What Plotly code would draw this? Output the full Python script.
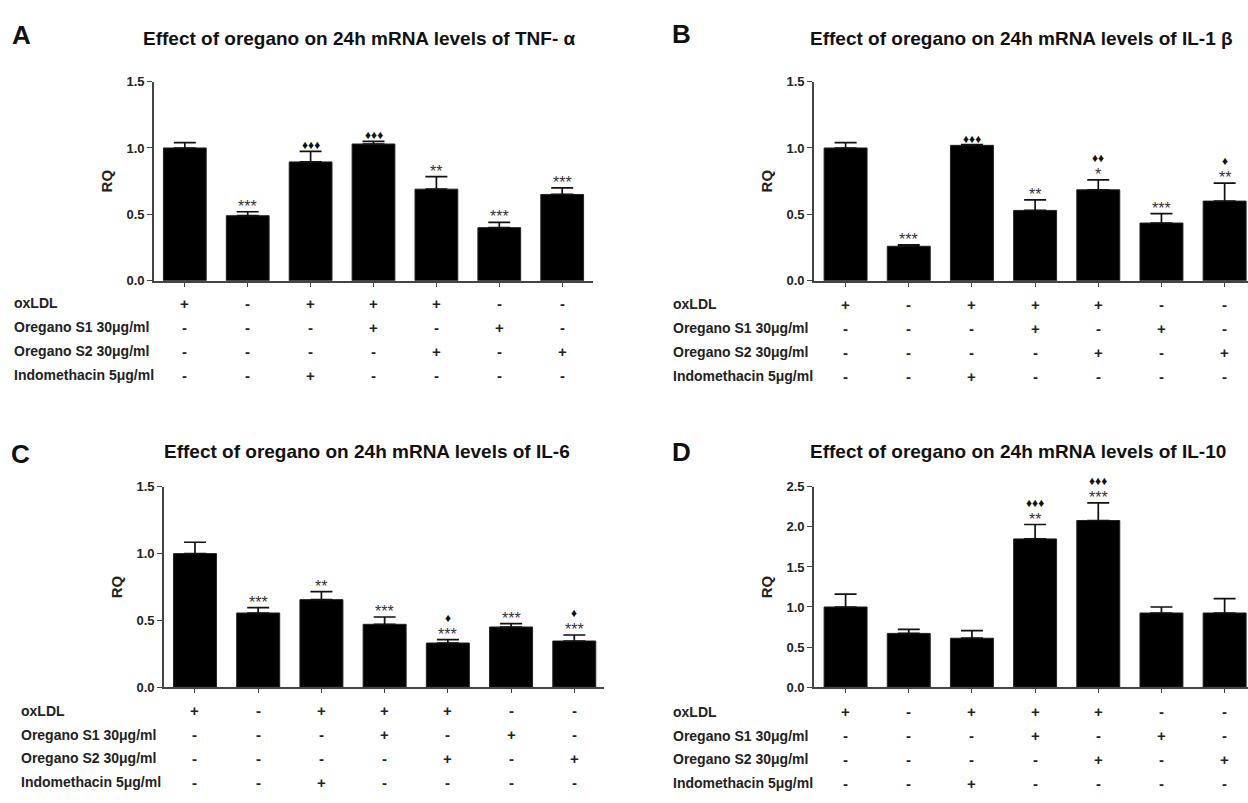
import plotly.graph_objects as go

W, H = 1248, 803

groups = ["oxLDL", "Untreated", "oxLDL+Indo", "oxLDL+S1", "oxLDL+S2", "S1", "S2"]

tnf_mean = [1.00, 0.49, 0.895, 1.03, 0.69, 0.40, 0.65]
tnf_sem = [0.04, 0.03, 0.08, 0.02, 0.095, 0.04, 0.05]
tnf_star = ["", "***", "", "", "**", "***", "***"]
tnf_dia = ["", "", "♦♦♦", "♦♦♦", "", "", ""]

il1b_mean = [1.00, 0.26, 1.02, 0.53, 0.685, 0.435, 0.60]
il1b_sem = [0.04, 0.01, 0.005, 0.08, 0.075, 0.07, 0.135]
il1b_star = ["", "***", "", "**", "*", "***", "**"]
il1b_dia = ["", "", "♦♦♦", "", "♦♦", "", "♦"]

il6_mean = [1.00, 0.555, 0.655, 0.47, 0.33, 0.45, 0.345]
il6_sem = [0.085, 0.04, 0.06, 0.055, 0.025, 0.025, 0.045]
il6_star = ["", "***", "**", "***", "***", "***", "***"]
il6_dia = ["", "", "", "", "♦", "", "♦"]

il10_mean = [1.00, 0.67, 0.61, 1.85, 2.08, 0.925, 0.925]
il10_sem = [0.16, 0.05, 0.095, 0.18, 0.22, 0.075, 0.18]
il10_star = ["", "", "", "**", "***", "", ""]
il10_dia = ["", "", "", "♦♦♦", "♦♦♦", "", ""]

row_labels = ["oxLDL", "Oregano S1 30μg/ml", "Oregano S2 30μg/ml", "Indomethacin 5μg/ml"]
row_signs = [
    ["+", "-", "+", "+", "+", "-", "-"],
    ["-", "-", "-", "+", "-", "+", "-"],
    ["-", "-", "-", "-", "+", "-", "+"],
    ["-", "-", "+", "-", "-", "-", "-"],
]

titles = [
    "Effect of oregano on 24h mRNA levels of TNF- α",
    "Effect of oregano on 24h mRNA levels of IL-1 β",
    "Effect of oregano on 24h mRNA levels of IL-6",
    "Effect of oregano on 24h mRNA levels of IL-10",
]
letters = ["A", "B", "C", "D"]
ymax = [1.5, 1.5, 1.5, 2.5]

FONT = "Liberation Sans, Arial, sans-serif"

# panel geometry in pixels: (x_left, x_right, y_top, y_bottom)
panels = [
    (154, 593, 76, 279),
    (814, 1248, 76, 279),
    (164, 604, 489, 693),
    (814, 1248, 489, 693),
]
xranges = [(-0.49, 6.49), (-0.5, 6.37), (-0.49, 6.47), (-0.5, 6.37)]
title_pos = [(359, 32), (1021, 32), (367, 453), (1018, 453)]
letter_pos = [(21, 29), (682, 28), (20, 456), (682, 453)]
label_x = [12, 671, 19, 671]
row_first = [302, 303, 717, 718]
row_step = 24.4

data = [
    (tnf_mean, tnf_sem, tnf_star, tnf_dia),
    (il1b_mean, il1b_sem, il1b_star, il1b_dia),
    (il6_mean, il6_sem, il6_star, il6_dia),
    (il10_mean, il10_sem, il10_star, il10_dia),
]

fig = go.Figure()
annotations = []
layout_axes = {}


def px_x(p):
    return p / W


def px_y(p):
    return 1 - p / H


for i, (mean, sem, star, dia) in enumerate(data):
    n = "" if i == 0 else str(i + 1)
    xa, ya = "x" + n, "y" + n
    fig.add_trace(go.Bar(
        x=groups, y=mean, xaxis=xa, yaxis=ya,
        marker=dict(color="black", line=dict(width=1, color="#222")),
        width=0.68,
        error_y=dict(type="data", array=sem, arrayminus=[0] * len(sem),
                     symmetric=False, color="#111", thickness=1.7, width=11),
        showlegend=False,
    ))
    xl, xr, yt, yb = panels[i]
    layout_axes["xaxis" + n] = dict(
        domain=[px_x(xl), px_x(xr)], anchor=ya, type="category",
        range=list(xranges[i]), showline=True, linecolor="#444", linewidth=1.6,
        ticks="outside", ticklen=4, tickcolor="#444", tickwidth=1.4,
        showticklabels=False, showgrid=False, zeroline=False, fixedrange=True,
    )
    layout_axes["yaxis" + n] = dict(
        domain=[px_y(yb), px_y(yt)], anchor=xa,
        range=[0, ymax[i]], dtick=0.5, tickformat=".1f",
        showline=True, linecolor="#444", linewidth=1.6,
        ticks="outside", ticklen=5, tickcolor="#444", tickwidth=1.4,
        tickfont=dict(family=FONT, size=13, color="#222", weight="bold"),
        title=dict(text="RQ", standoff=10,
                   font=dict(family=FONT, size=15, color="#222", weight="bold")),
        showgrid=False, zeroline=False, fixedrange=True,
    )
    # significance marks
    for j, g in enumerate(groups):
        top = mean[j] + sem[j]
        shift = -3
        if star[j]:
            annotations.append(dict(
                x=g, y=top, xref=xa, yref=ya, text=star[j], showarrow=False,
                yanchor="bottom", yshift=-5,
                font=dict(family=FONT, size=16, color="#333"),
            ))
            shift = 13
        if dia[j]:
            annotations.append(dict(
                x=g, y=top, xref=xa, yref=ya, text=dia[j], showarrow=False,
                yanchor="bottom", yshift=shift,
                font=dict(family=FONT, size=12, color="#111"),
            ))
    # title
    tx, ty = title_pos[i]
    annotations.append(dict(
        x=px_x(tx), y=px_y(ty), xref="paper", yref="paper", text=titles[i],
        showarrow=False, xanchor="center", yanchor="middle",
        font=dict(family=FONT, size=19, color="#111", weight="bold"),
    ))
    lx, ly = letter_pos[i]
    annotations.append(dict(
        x=px_x(lx), y=px_y(ly), xref="paper", yref="paper", text=letters[i],
        showarrow=False, xanchor="center", yanchor="middle",
        font=dict(family=FONT, size=26, color="#111", weight="bold"),
    ))
    # treatment table
    for r, lab in enumerate(row_labels):
        ypix = row_first[i] + row_step * r
        annotations.append(dict(
            x=px_x(label_x[i]), y=px_y(ypix), xref="paper", yref="paper",
            text=lab, showarrow=False, xanchor="left", yanchor="middle",
            font=dict(family=FONT, size=14, color="#222", weight="bold"),
        ))
        for j, g in enumerate(groups):
            annotations.append(dict(
                x=g, y=px_y(ypix), xref=xa, yref="paper",
                text=row_signs[r][j], showarrow=False, xanchor="center",
                yanchor="middle",
                font=dict(family=FONT, size=15, color="#222", weight="bold"),
            ))

fig.update_layout(
    width=W, height=H, autosize=False,
    margin=dict(l=0, r=0, t=0, b=0),
    paper_bgcolor="white", plot_bgcolor="white",
    annotations=annotations,
    **layout_axes,
)

fig.write_html("out.html")
